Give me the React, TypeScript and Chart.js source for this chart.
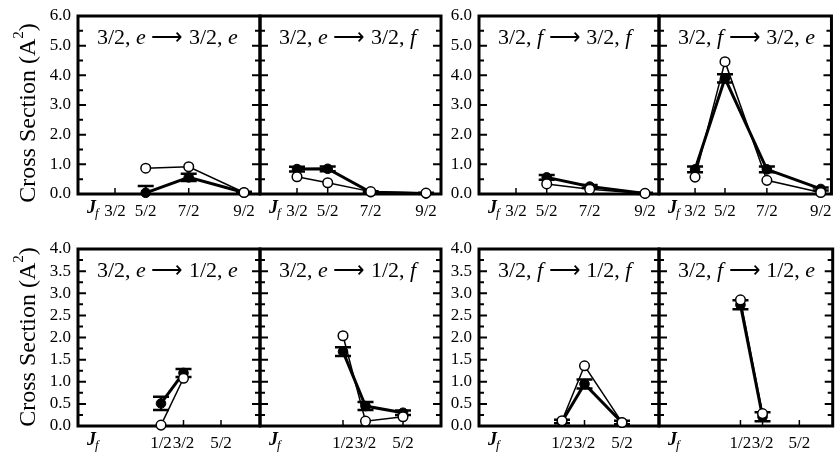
import React, { useEffect, useRef } from 'react';
import { Chart, registerables } from 'chart.js';

Chart.register(...registerables);

const SERIF = '"Liberation Serif", "Times New Roman", Times, serif';
Chart.defaults.font.family = SERIF;
Chart.defaults.color = '#000';

// ---------- categories (final rotational level J_f) ----------
const topLevelLabels = ['3/2', '5/2', '7/2', '9/2'];
const topLevelJ = [1.5, 2.5, 3.5, 4.5];
const bottomLevelLabels = ['1/2', '3/2', '5/2'];
const bottomLevelJ = [0.5, 1.5, 2.5];

// ---------- top row: 3/2 -> 3/2 (filled = experiment with error bars, open = theory) ----------
const eToE32Filled = [null, 0.04, 0.56, 0.05];
const eToE32Err = [null, 0.23, 0.12, 0.03];
const eToE32Open = [null, 0.87, 0.92, 0.05];

const eToF32Filled = [0.84, 0.85, 0.06, 0.02];
const eToF32Err = [0.08, 0.08, 0.03, 0.02];
const eToF32Open = [0.58, 0.38, 0.08, 0.03];

const fToF32Filled = [null, 0.56, 0.25, 0.02];
const fToF32Err = [null, 0.08, 0.05, 0.02];
const fToF32Open = [null, 0.34, 0.16, 0.02];

const fToE32Filled = [0.83, 3.9, 0.83, 0.17];
const fToE32Err = [0.1, 0.14, 0.1, 0.05];
const fToE32Open = [0.57, 4.46, 0.46, 0.05];

// ---------- bottom row: 3/2 -> 1/2 ----------
const eToE12Filled = [0.51, 1.2, null];
const eToE12Err = [0.15, 0.09, null];
const eToE12Open = [0.02, 1.08, null];

const eToF12Filled = [1.68, 0.45, 0.3];
const eToF12Err = [0.1, 0.09, 0.05];
const eToF12Open = [2.04, 0.11, 0.21];

const fToF12Filled = [0.1, 0.95, 0.08];
const fToF12Err = [0.04, 0.1, 0.04];
const fToF12Open = [0.12, 1.36, 0.08];

const fToE12Filled = [2.74, 0.21, null];
const fToE12Err = [0.1, 0.1, null];
const fToE12Open = [2.85, 0.28, null];

// ---------- panel titles (odd segments italic) ----------
const ARROW = ' \u27F6 ';
const titleEE32 = ['3/2, ', 'e', ARROW + '3/2, ', 'e'];
const titleEF32 = ['3/2, ', 'e', ARROW + '3/2, ', 'f'];
const titleFF32 = ['3/2, ', 'f', ARROW + '3/2, ', 'f'];
const titleFE32 = ['3/2, ', 'f', ARROW + '3/2, ', 'e'];
const titleEE12 = ['3/2, ', 'e', ARROW + '1/2, ', 'e'];
const titleEF12 = ['3/2, ', 'e', ARROW + '1/2, ', 'f'];
const titleFF12 = ['3/2, ', 'f', ARROW + '1/2, ', 'f'];
const titleFE12 = ['3/2, ', 'f', ARROW + '1/2, ', 'e'];

const yTitleMain = 'Cross Section (A';
const yTitleSup = '2';
const yTitleEnd = ')';

type Val = number | null;
type Spec = {
  title: string[];
  labels: string[];
  jValues: number[];
  filled: Val[];
  err: Val[];
  open: Val[];
  yMax: number;
  yStep: number;
  yMinor: number;
  area: { l: number; r: number; t: number; b: number };
  padL: number;
  padR: number;
  padT: number;
  padB: number;
  showYLabels: boolean;
  yTitleY?: number;
  pxPerUnit: number;
  firstOffset: number;
};

const cols = [
  { l: 78, r: 260, padL: 78, padR: 8 },
  { l: 260, r: 441, padL: 8, padR: 8 },
  { l: 479, r: 659, padL: 38, padR: 8 },
  { l: 659, r: 836, padL: 8, padR: 3 },
];
const rows = [
  { t: 16, b: 194, padT: 24, padB: 30, yMax: 6, yStep: 1, yMinor: 0.5, pxPerUnit: 6.143, firstOffset: 37, yTitleY: 113 },
  { t: 249, b: 426, padT: 24, padB: 29, yMax: 4, yStep: 0.5, yMinor: 0.25, pxPerUnit: 7.5, firstOffset: 83, yTitleY: 337 },
];

function makeSpec(row: number, col: number, title: string[], filled: Val[], err: Val[], open: Val[]): Spec {
  const c = cols[col];
  const r = rows[row];
  return {
    title,
    labels: row === 0 ? topLevelLabels : bottomLevelLabels,
    jValues: row === 0 ? topLevelJ : bottomLevelJ,
    filled,
    err,
    open,
    yMax: r.yMax,
    yStep: r.yStep,
    yMinor: r.yMinor,
    area: { l: c.l, r: c.r, t: r.t, b: r.b },
    padL: c.padL,
    padR: c.padR,
    padT: r.padT,
    padB: r.padB,
    showYLabels: col === 0 || col === 2,
    yTitleY: col === 0 ? r.yTitleY : undefined,
    pxPerUnit: r.pxPerUnit,
    firstOffset: r.firstOffset,
  };
}

const panels: Spec[] = [
  makeSpec(0, 0, titleEE32, eToE32Filled, eToE32Err, eToE32Open),
  makeSpec(0, 1, titleEF32, eToF32Filled, eToF32Err, eToF32Open),
  makeSpec(0, 2, titleFF32, fToF32Filled, fToF32Err, fToF32Open),
  makeSpec(0, 3, titleFE32, fToE32Filled, fToE32Err, fToE32Open),
  makeSpec(1, 0, titleEE12, eToE12Filled, eToE12Err, eToE12Open),
  makeSpec(1, 1, titleEF12, eToF12Filled, eToF12Err, eToF12Open),
  makeSpec(1, 2, titleFF12, fToF12Filled, fToF12Err, fToF12Open),
  makeSpec(1, 3, titleFE12, fToE12Filled, fToE12Err, fToE12Open),
];

function Panel({ s }: { s: Spec }) {
  const ref = useRef<HTMLCanvasElement>(null);
  const width = s.area.r - s.area.l;
  const height = s.area.b - s.area.t;
  const cw = width + s.padL + s.padR;
  const ch = height + s.padT + s.padB;
  const left = s.area.l - s.padL;
  const top = s.area.t - s.padT;

  useEffect(() => {
    if (!ref.current) return;
    // rotational energy axis ~ J(J+1)
    const xs = s.jValues.map((j) => j * (j + 1));
    const toPts = (arr: Val[]) =>
      arr
        .map((v, i) => (v == null ? null : { x: xs[i], y: v }))
        .filter((p) => p !== null) as { x: number; y: number }[];
    const xMin = xs[0] - s.firstOffset / s.pxPerUnit;
    const xMax = xMin + width / s.pxPerUnit;

    const decor = {
      id: 'decor',
      beforeDatasetsDraw(chart: any) {
        const { ctx, chartArea: a } = chart;
        const x = chart.scales.x;
        const y = chart.scales.y;
        ctx.save();
        ctx.strokeStyle = '#000';
        ctx.lineWidth = 2;
        const n = Math.round(s.yMax / s.yMinor);
        for (let k = 1; k < n; k++) {
          const v = k * s.yMinor;
          const py = y.getPixelForValue(v);
          const q = v / s.yStep;
          const major = Math.abs(q - Math.round(q)) < 1e-6;
          const len = major ? 8 : 5;
          ctx.beginPath();
          ctx.moveTo(a.left, py);
          ctx.lineTo(a.left + len, py);
          ctx.moveTo(a.right, py);
          ctx.lineTo(a.right - len, py);
          ctx.stroke();
        }
        ctx.lineWidth = 1.5;
        xs.forEach((xv) => {
          const px = x.getPixelForValue(xv);
          ctx.beginPath();
          ctx.moveTo(px, a.bottom);
          ctx.lineTo(px, a.bottom - 6);
          ctx.stroke();
        });
        ctx.lineWidth = 3;
        ctx.strokeRect(a.left, a.top, a.right - a.left, a.bottom - a.top);
        ctx.restore();
      },
      afterDatasetDraw(chart: any, args: any) {
        if (args.index !== 1) return;
        const { ctx, chartArea: a } = chart;
        const x = chart.scales.x;
        const y = chart.scales.y;
        ctx.save();
        ctx.beginPath();
        ctx.rect(a.left, a.top, a.right - a.left, a.bottom - a.top + 1.5);
        ctx.clip();
        ctx.strokeStyle = '#000';
        s.filled.forEach((v, i) => {
          const e = s.err[i];
          if (v == null || e == null) return;
          const px = x.getPixelForValue(xs[i]);
          const y1 = y.getPixelForValue(v + e);
          const y2 = y.getPixelForValue(v - e);
          ctx.lineWidth = 2;
          ctx.beginPath();
          ctx.moveTo(px, y1);
          ctx.lineTo(px, y2);
          ctx.stroke();
          ctx.lineWidth = 2.5;
          ctx.beginPath();
          ctx.moveTo(px - 8, y1);
          ctx.lineTo(px + 8, y1);
          ctx.moveTo(px - 8, y2);
          ctx.lineTo(px + 8, y2);
          ctx.stroke();
        });
        ctx.restore();
      },
      afterDraw(chart: any) {
        const { ctx, chartArea: a } = chart;
        ctx.save();
        ctx.fillStyle = '#000';
        ctx.textAlign = 'left';
        ctx.textBaseline = 'alphabetic';
        // panel title
        let tx = a.left + 19;
        const ty = a.top + 28;
        s.title.forEach((seg, i) => {
          ctx.font = (i % 2 === 1 ? 'italic ' : '') + '22px ' + SERIF;
          ctx.fillText(seg, tx, ty);
          tx += ctx.measureText(seg).width;
        });
        // J_f axis label
        ctx.font = 'italic bold 18px ' + SERIF;
        const jx = a.left + 9;
        const jy = a.bottom + 19;
        ctx.fillText('J', jx, jy);
        const jw = ctx.measureText('J').width;
        ctx.font = 'italic 13px ' + SERIF;
        ctx.fillText('f', jx + jw - 1, jy + 4);
        // y title
        if (s.yTitleY !== undefined) {
          ctx.translate(35 - left, s.yTitleY - top);
          ctx.rotate(-Math.PI / 2);
          ctx.font = '24px ' + SERIF;
          const w1 = ctx.measureText(yTitleMain).width;
          const w3 = ctx.measureText(yTitleEnd).width;
          ctx.font = '15px ' + SERIF;
          const w2 = ctx.measureText(yTitleSup).width;
          const total = w1 + w2 + w3;
          let sx = -total / 2;
          ctx.font = '24px ' + SERIF;
          ctx.fillText(yTitleMain, sx, 0);
          sx += w1;
          ctx.font = '15px ' + SERIF;
          ctx.fillText(yTitleSup, sx, -12);
          sx += w2;
          ctx.font = '24px ' + SERIF;
          ctx.fillText(yTitleEnd, sx, 0);
        }
        ctx.restore();
      },
    };

    const tickFont = { family: SERIF, size: 17, style: 'normal' as const, weight: 'normal' as const };

    const chart = new Chart(ref.current, {
      type: 'line',
      data: {
        datasets: [
          {
            label: 'open',
            data: toPts(s.open),
            borderColor: '#000',
            borderWidth: 1.5,
            pointRadius: 4.8,
            pointBackgroundColor: '#fff',
            pointBorderColor: '#000',
            pointBorderWidth: 1.5,
            tension: 0,
            clip: false as any,
          },
          {
            label: 'filled',
            data: toPts(s.filled),
            borderColor: '#000',
            borderWidth: 3,
            pointRadius: 4.8,
            pointBackgroundColor: '#000',
            pointBorderColor: '#000',
            pointBorderWidth: 1,
            tension: 0,
            clip: false as any,
          },
        ],
      },
      options: {
        animation: false,
        responsive: false,
        events: [],
        font: { family: SERIF },
        layout: { padding: { left: 0, right: s.padR, top: s.padT, bottom: 0 } },
        plugins: { legend: { display: false }, tooltip: { enabled: false } },
        scales: {
          x: {
            type: 'linear',
            min: xMin,
            max: xMax,
            grid: { display: false, drawTicks: false },
            border: { display: false },
            afterBuildTicks: (sc: any) => {
              sc.ticks = xs.map((v) => ({ value: v }));
            },
            afterFit: (sc: any) => {
              sc.height = s.padB;
            },
            ticks: {
              autoSkip: false,
              maxRotation: 0,
              minRotation: 0,
              padding: 7,
              color: '#000',
              font: tickFont,
              callback: (_v: any, i: number) => s.labels[i],
            },
          },
          y: {
            type: 'linear',
            min: 0,
            max: s.yMax,
            grid: { display: false, drawTicks: false },
            border: { display: false },
            afterFit: (sc: any) => {
              sc.width = s.padL;
            },
            ticks: {
              display: s.showYLabels,
              autoSkip: false,
              stepSize: s.yStep,
              padding: 7,
              color: '#000',
              font: tickFont,
              callback: (v: any) => Number(v).toFixed(1),
            },
          },
        },
      },
      plugins: [decor as any],
    } as any);
    return () => chart.destroy();
  }, []);

  return (
    <canvas
      ref={ref}
      width={cw}
      height={ch}
      style={{ position: 'absolute', left, top, width: cw, height: ch }}
    />
  );
}

export default function App() {
  return (
    <div
      style={{
        position: 'absolute',
        left: 0,
        top: 0,
        width: 839,
        height: 455,
        background: '#fff',
        overflow: 'hidden',
      }}
    >
      {panels.map((p, i) => (
        <Panel key={i} s={p} />
      ))}
    </div>
  );
}
